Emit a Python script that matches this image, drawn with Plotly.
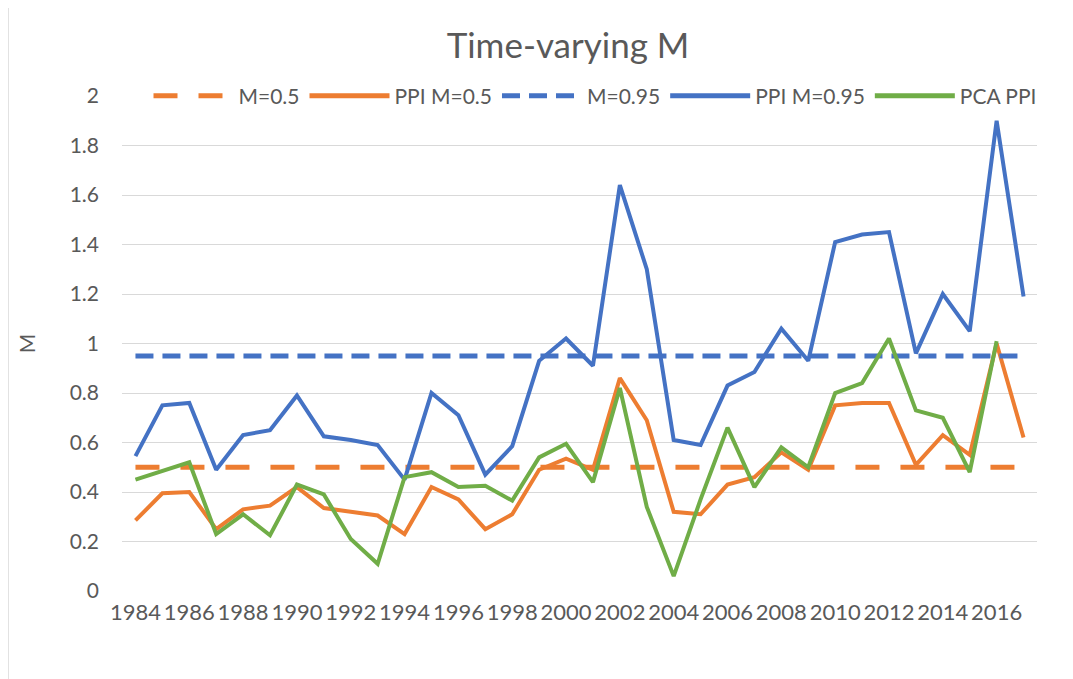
import plotly.graph_objects as go

years = list(range(1984, 2018))

m_05 = [0.5] * len(years)
m_095 = [0.95] * len(years)

ppi_m05 = [0.285, 0.395, 0.40, 0.25, 0.33, 0.345, 0.42, 0.335, 0.32, 0.305,
           0.23, 0.42, 0.37, 0.25, 0.31, 0.49, 0.535, 0.49, 0.86, 0.69,
           0.32, 0.31, 0.43, 0.46, 0.56, 0.49, 0.75, 0.76, 0.76, 0.51,
           0.63, 0.55, 1.00, 0.62]

ppi_m095 = [0.545, 0.75, 0.76, 0.49, 0.63, 0.65, 0.79, 0.625, 0.61, 0.59,
            0.45, 0.80, 0.71, 0.47, 0.585, 0.93, 1.02, 0.91, 1.64, 1.30,
            0.61, 0.59, 0.83, 0.885, 1.06, 0.93, 1.41, 1.44, 1.45, 0.96,
            1.20, 1.05, 1.90, 1.19]

pca_ppi = [0.45, 0.485, 0.52, 0.23, 0.31, 0.225, 0.43, 0.39, 0.21, 0.11,
           0.46, 0.48, 0.42, 0.425, 0.365, 0.54, 0.595, 0.44, 0.82, 0.34,
           0.06, 0.37, 0.66, 0.42, 0.58, 0.50, 0.80, 0.84, 1.02, 0.73,
           0.70, 0.48, 1.01, None]

tick_years = list(range(1984, 2017, 2))
y_ticks = [0, 0.2, 0.4, 0.6, 0.8, 1, 1.2, 1.4, 1.6, 1.8, 2]
y_tick_text = ["0", "0.2", "0.4", "0.6", "0.8", "1", "1.2", "1.4", "1.6", "1.8", "2"]

ORANGE = "#ED7D31"
BLUE = "#4472C4"
GREEN = "#70AD47"
TEXT = "#595959"
FONT = "Lato, 'Open Sans', sans-serif"

fig = go.Figure()
fig.add_trace(go.Scatter(x=years, y=m_05, name="M=0.5", mode="lines",
                         line=dict(color=ORANGE, width=5, dash="24px,21px")))
fig.add_trace(go.Scatter(x=years, y=ppi_m05, name="PPI M=0.5", mode="lines",
                         line=dict(color=ORANGE, width=4)))
fig.add_trace(go.Scatter(x=years, y=m_095, name="M=0.95", mode="lines",
                         line=dict(color=BLUE, width=5, dash="18px,9px")))
fig.add_trace(go.Scatter(x=years, y=ppi_m095, name="PPI M=0.95", mode="lines",
                         line=dict(color=BLUE, width=4)))
fig.add_trace(go.Scatter(x=years, y=pca_ppi, name="PCA PPI", mode="lines",
                         line=dict(color=GREEN, width=4)))

W, H = 1065, 671
L, R, T, B = 114, 36, 88, 88
PW, PH = W - L - R, H - T - B

fig.update_layout(
    width=W, height=H,
    margin=dict(l=L, r=R, t=T, b=B),
    paper_bgcolor="white", plot_bgcolor="white",
    font=dict(family=FONT, color=TEXT, size=21),
    title=dict(text="Time-varying M", x=(568 - 8) / W, xanchor="center", y=1 - 38 / H, yanchor="middle",
               font=dict(size=35, color=TEXT, family=FONT)),
    legend=dict(orientation="h", xref="paper", x=(595 - 8 - L) / PW, xanchor="center", y=1.0, yanchor="middle",
                bgcolor="rgba(0,0,0,0)", font=dict(size=21, color=TEXT),
                itemwidth=80, itemsizing="constant", traceorder="normal"),
    showlegend=True,
    xaxis=dict(range=[1983.5, 2017.5], tickmode="array", tickvals=tick_years,
               ticktext=[str(y) for y in tick_years], showgrid=False, zeroline=False,
               showline=False, ticks="", tickangle=0, tickfont=dict(size=22, color=TEXT),
               ticklabelstandoff=6),
    yaxis=dict(range=[0, 2], tickmode="array", tickvals=y_ticks, ticktext=y_tick_text,
               showgrid=True, gridcolor="#D9D9D9", gridwidth=1, zeroline=False,
               showline=False, ticks="", tickfont=dict(size=21, color=TEXT),
               title=dict(text="M", font=dict(size=21, color=TEXT), standoff=28),
               ticklabelstandoff=22),
    shapes=[dict(type="rect", xref="paper", yref="paper",
                 x0=(0 - L) / PW, x1=(1070 - L) / PW,
                 y0=(B - 669) / PH, y1=H / PH,
                 line=dict(color="#D9D9D9", width=1.5), fillcolor="rgba(0,0,0,0)", layer="below")],
)

fig.write_html("out.html")
